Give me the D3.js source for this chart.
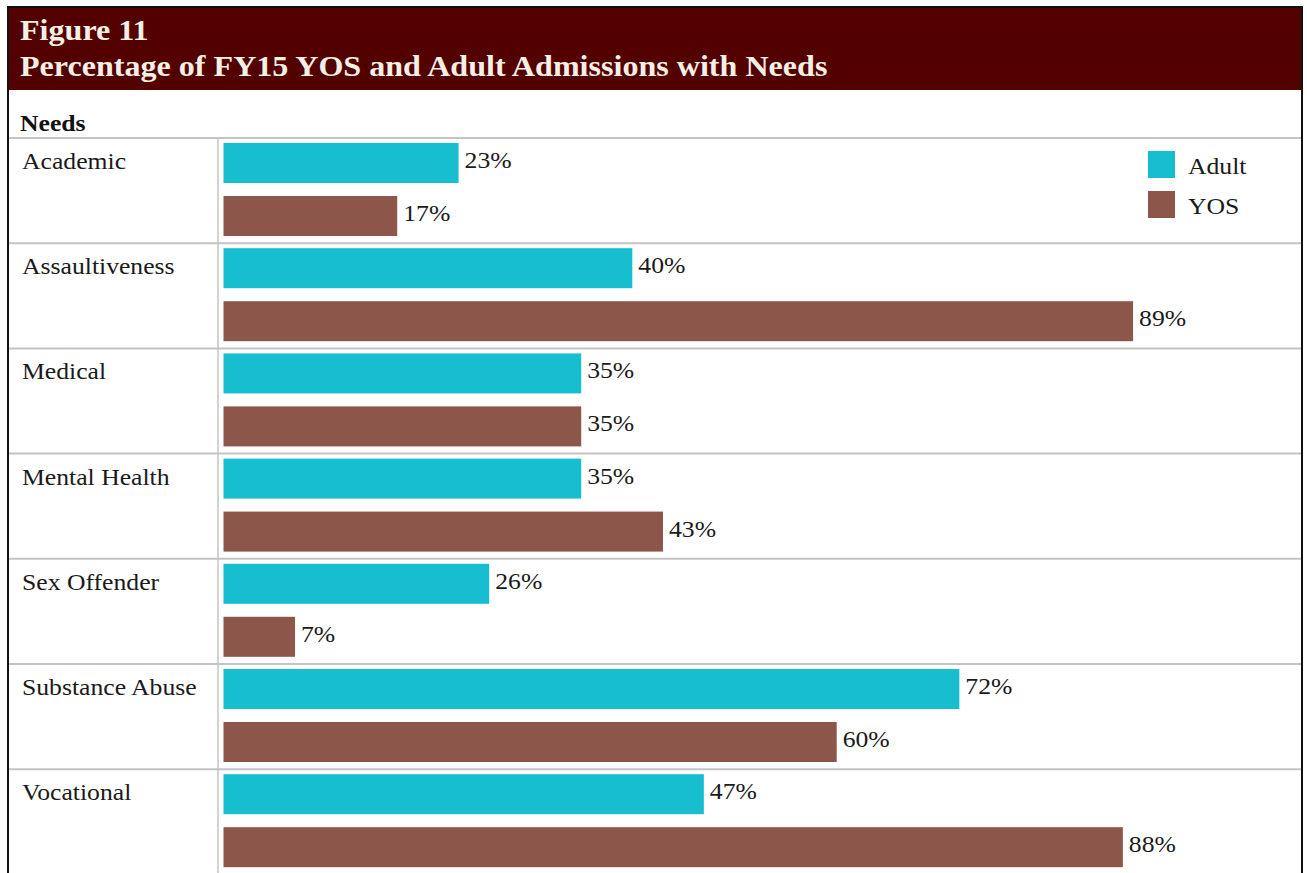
<!DOCTYPE html>
<html>
<head>
<meta charset="utf-8">
<script src="https://cdn.jsdelivr.net/npm/d3@7"></script>
<style>
  body { margin: 0; background: #fff; }
  svg { display: block; }
</style>
</head>
<body>
<div id="chart"></div>
<script>
  // categories and values
  var categories = ['Academic', 'Assaultiveness', 'Medical', 'Mental Health', 'Sex Offender', 'Substance Abuse', 'Vocational'];
  var seriesNames = ['Adult', 'YOS'];
  var adultValues = [23, 40, 35, 35, 26, 72, 47];
  var yosValues = [17, 89, 35, 43, 7, 60, 88];
  var seriesColors = ['#17becf', '#8c564b'];

  var width = 1307, height = 873;
  var serif = '"Liberation Serif", "Times New Roman", serif';
  // the source screenshot is a bit wider than plain Times, stretch text to match
  var sx = 1.07;

  var place = function(px, py){
    return 'translate(' + px + ',' + py + ') scale(' + sx + ',1)';
  };

  var rows = categories.map(function(c, i){
    return { cat: c, values: [
      { s: 'Adult', v: adultValues[i] },
      { s: 'YOS', v: yosValues[i] }
    ]};
  });

  var svg = d3.select('#chart').append('svg')
              .attr('width', width)
              .attr('height', height);

  // header
  svg.append('rect')
     .attr('x', 9).attr('y', 8)
     .attr('width', 1293).attr('height', 82)
     .attr('fill', '#520000');

  svg.append('text')
     .attr('transform', place(20, 40))
     .attr('font-family', serif).attr('font-weight', 'bold')
     .attr('font-size', 30).attr('fill', '#f6efe4')
     .text('Figure 11');

  svg.append('text')
     .attr('transform', place(20, 76))
     .attr('font-family', serif).attr('font-weight', 'bold')
     .attr('font-size', 30).attr('fill', '#f6efe4')
     .text('Percentage of FY15 YOS and Adult Admissions with Needs');

  svg.append('text')
     .attr('transform', place(20, 131))
     .attr('font-family', serif).attr('font-weight', 'bold')
     .attr('font-size', 24).attr('fill', '#111')
     .text('Needs');

  // scales
  var x = d3.scaleLinear().domain([0, 100]).range([223.5, 1245.5]);
  var y = d3.scaleBand().domain(categories).range([138, 138 + 7 * 105.2]);
  var inner = d3.scaleBand().domain(seriesNames).range([5, 98]).paddingInner(0.245);
  var color = d3.scaleOrdinal().domain(seriesNames).range(seriesColors);

  // row separators
  svg.selectAll('line.row').data(categories)
    .enter().append('line')
    .attr('class', 'row')
    .attr('x1', 9).attr('x2', 1302)
    .attr('y1', function(d){ return y(d); })
    .attr('y2', function(d){ return y(d); })
    .attr('stroke', '#c4c4c4').attr('stroke-width', 2);

  svg.append('line')
     .attr('x1', 218).attr('x2', 218)
     .attr('y1', 138).attr('y2', height)
     .attr('stroke', '#c4c4c4').attr('stroke-width', 1.5);

  // category labels
  svg.selectAll('text.cat').data(categories)
    .enter().append('text')
    .attr('class', 'cat')
    .attr('transform', function(d){ return place(22, y(d) + 31); })
    .attr('font-family', serif).attr('font-size', 24)
    .attr('fill', '#1a1a1a')
    .text(function(d){ return d; });

  var groups = svg.selectAll('g.grp').data(rows)
    .enter().append('g')
    .attr('class', 'grp')
    .attr('transform', function(d){ return 'translate(0,' + y(d.cat) + ')'; });

  groups.selectAll('rect').data(function(d){ return d.values; })
    .enter().append('rect')
    .attr('x', x(0))
    .attr('y', function(d){ return inner(d.s); })
    .attr('width', function(d){ return x(d.v) - x(0); })
    .attr('height', inner.bandwidth())
    .attr('fill', function(d){ return color(d.s); });

  groups.selectAll('text').data(function(d){ return d.values; })
    .enter().append('text')
    .attr('transform', function(d){
      return place(x(d.v) + 6, inner(d.s) + inner.bandwidth() / 2 + 5);
    })
    .attr('font-family', serif).attr('font-size', 24)
    .attr('fill', '#1a1a1a')
    .text(function(d){ return d.v + '%'; });

  // legend
  var legend = svg.selectAll('g.legend').data(seriesNames)
    .enter().append('g')
    .attr('class', 'legend')
    .attr('transform', function(d, i){ return 'translate(1148,' + (151 + i * 40) + ')'; });

  legend.append('rect')
    .attr('width', 27).attr('height', 27)
    .attr('fill', function(d){ return color(d); });

  legend.append('text')
    .attr('transform', place(40, 23))
    .attr('font-family', serif).attr('font-size', 24)
    .attr('fill', '#1a1a1a')
    .text(function(d){ return d; });

  // outer frame
  svg.append('path')
     .attr('d', 'M8,' + height + 'V7H1302V' + height)
     .attr('fill', 'none')
     .attr('stroke', '#111').attr('stroke-width', 2);
</script>
</body>
</html>
